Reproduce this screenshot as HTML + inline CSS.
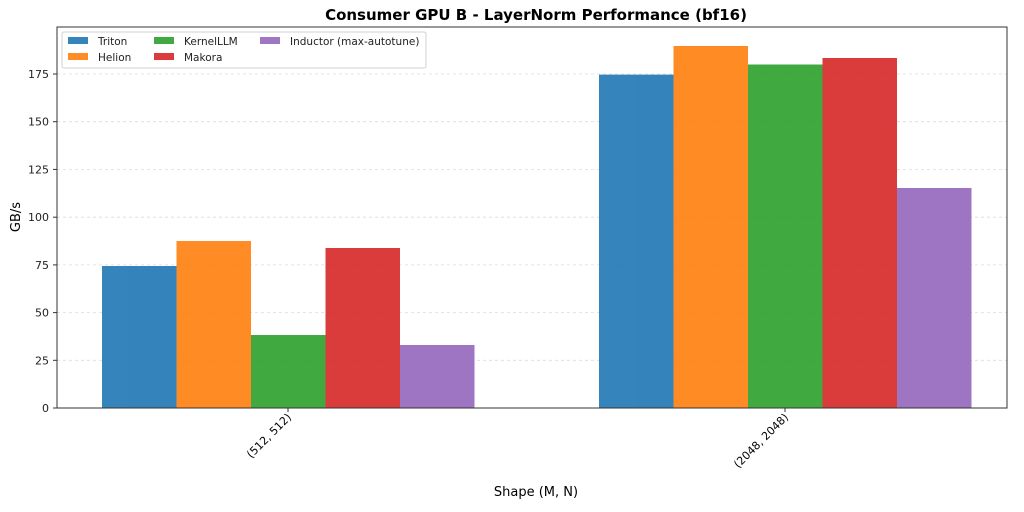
<!DOCTYPE html><html><head><style>body{margin:0;background:#fff}</style></head><body>
<svg width="1024" height="507" xmlns="http://www.w3.org/2000/svg" font-family="DejaVu Sans, Liberation Sans, sans-serif">
<rect width="1024" height="507" fill="#fff"/>
<text x="536" y="20" text-anchor="middle" font-size="15" font-weight="bold">Consumer GPU B - LayerNorm Performance (bf16)</text>
<g stroke="#ccc" stroke-dasharray="3,3" stroke-width="0.8" opacity="0.7">
<line x1="57" x2="1007" y1="360.3" y2="360.3"/><line x1="57" x2="1007" y1="312.6" y2="312.6"/><line x1="57" x2="1007" y1="264.9" y2="264.9"/><line x1="57" x2="1007" y1="217.2" y2="217.2"/><line x1="57" x2="1007" y1="169.4" y2="169.4"/><line x1="57" x2="1007" y1="121.7" y2="121.7"/><line x1="57" x2="1007" y1="74" y2="74"/>
</g>
<g opacity="0.9">
<rect x="102" y="266" width="74.5" height="142" fill="#1f77b4"/>
<rect x="176.5" y="241" width="74.5" height="167" fill="#ff7f0e"/>
<rect x="251" y="335" width="74.5" height="73" fill="#2ca02c"/>
<rect x="325.5" y="248" width="74.5" height="160" fill="#d62728"/>
<rect x="400" y="345" width="74.5" height="63" fill="#9467bd"/>
<rect x="599" y="74.6" width="74.5" height="333.4" fill="#1f77b4"/>
<rect x="673.5" y="46" width="74.5" height="362" fill="#ff7f0e"/>
<rect x="748" y="64.5" width="74.5" height="343.5" fill="#2ca02c"/>
<rect x="822.5" y="58" width="74.5" height="350" fill="#d62728"/>
<rect x="897" y="188" width="74.5" height="220" fill="#9467bd"/>
</g>
<rect x="57" y="27" width="950" height="381" fill="none" stroke="#333" stroke-width="1"/>
<g font-size="11" text-anchor="end" fill="#222">
<text x="49" y="412">0</text><text x="49" y="364.3">25</text><text x="49" y="316.6">50</text><text x="49" y="268.9">75</text><text x="49" y="221.2">100</text><text x="49" y="173.4">125</text><text x="49" y="125.7">150</text><text x="49" y="78">175</text>
</g>
<g stroke="#333"><line x1="53" x2="57" y1="408" y2="408"/><line x1="53" x2="57" y1="360.3" y2="360.3"/><line x1="53" x2="57" y1="312.6" y2="312.6"/><line x1="53" x2="57" y1="264.9" y2="264.9"/><line x1="53" x2="57" y1="217.2" y2="217.2"/><line x1="53" x2="57" y1="169.4" y2="169.4"/><line x1="53" x2="57" y1="121.7" y2="121.7"/><line x1="53" x2="57" y1="74" y2="74"/>
<line x1="288" x2="288" y1="408" y2="412"/><line x1="785" x2="785" y1="408" y2="412"/></g>
<text font-size="11" text-anchor="end" transform="translate(292,418) rotate(-45)">(512, 512)</text>
<text font-size="11" text-anchor="end" transform="translate(789,418) rotate(-45)">(2048, 2048)</text>
<text x="536" y="496" text-anchor="middle" font-size="13">Shape (M, N)</text>
<text transform="translate(20,217) rotate(-90)" text-anchor="middle" font-size="13">GB/s</text>
<rect x="62" y="32" width="364" height="36" fill="#fff" stroke="#ccc" rx="2" opacity="0.9"/>
<g font-size="10.5" fill="#222">
<rect x="68" y="37" width="20" height="7" fill="#1f77b4" opacity="0.9"/><text x="98" y="45">Triton</text>
<rect x="68" y="53" width="20" height="7" fill="#ff7f0e" opacity="0.9"/><text x="98" y="61">Helion</text>
<rect x="154" y="37" width="20" height="7" fill="#2ca02c" opacity="0.9"/><text x="184" y="45">KernelLLM</text>
<rect x="154" y="53" width="20" height="7" fill="#d62728" opacity="0.9"/><text x="184" y="61">Makora</text>
<rect x="260" y="37" width="20" height="7" fill="#9467bd" opacity="0.9"/><text x="290" y="45">Inductor (max-autotune)</text>
</g>
</svg></body></html>
